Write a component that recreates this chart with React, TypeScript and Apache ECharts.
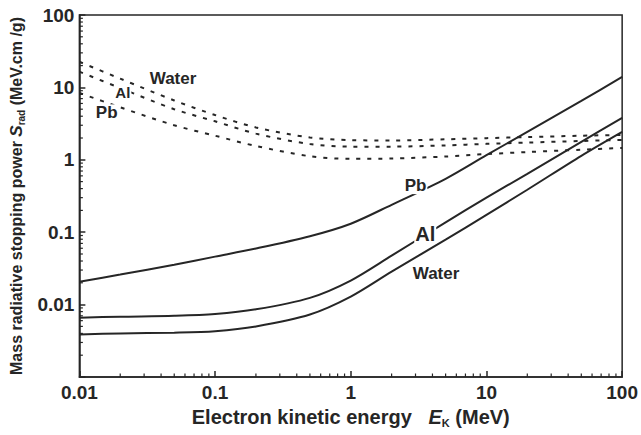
import React, { useEffect, useRef } from "react";
import * as echarts from "echarts";

// Electron kinetic energy (MeV)
const energies = [0.01, 0.02, 0.05, 0.1, 0.2, 0.5, 1, 2, 5, 10, 20, 50, 100];

// Mass radiative stopping power (solid curves)
const waterRad = [0.00386, 0.004, 0.0041, 0.0043, 0.005, 0.0073, 0.0129, 0.0285, 0.0788, 0.174, 0.386, 1.135, 2.43];
const alRad = [0.0066, 0.0068, 0.007, 0.0074, 0.0086, 0.0124, 0.0215, 0.0474, 0.137, 0.3, 0.64, 1.77, 3.8];
const pbRad = [0.0207, 0.026, 0.0356, 0.046, 0.0595, 0.088, 0.131, 0.239, 0.547, 1.16, 2.43, 6.5, 14];

// Collision stopping power (dotted curves)
const waterCol = [22.6, 13.2, 6.6, 4.15, 2.8, 2.03, 1.87, 1.85, 1.92, 1.99, 2.06, 2.15, 2.21];
const alCol = [16.5, 9.8, 5.0, 3.4, 2.3, 1.65, 1.52, 1.52, 1.58, 1.66, 1.73, 1.82, 1.88];
const pbCol = [8.4, 5.3, 3.0, 2.15, 1.55, 1.12, 1.03, 1.04, 1.11, 1.2, 1.28, 1.38, 1.46];

// Axis ranges and ticks
const xMin = 0.01;
const xMax = 100;
const yMin = 0.001;
const yMax = 100;
const xDecades = [0.01, 0.1, 1, 10];
const yDecades = [0.001, 0.01, 0.1, 1, 10];
const minorSteps = [2, 3, 4, 5, 6, 7, 8, 9];

// Curve annotations (data coordinates)
const annotations = [
  { text: "Water", x: 0.049, y: 13.1, size: 17 },
  { text: "Al", x: 0.0209, y: 8.6, size: 15 },
  { text: "Pb", x: 0.0159, y: 4.45, size: 17 },
  { text: "Pb", x: 3.0, y: 0.44, size: 17 },
  { text: "Al", x: 3.54, y: 0.0953, size: 20 },
  { text: "Water", x: 4.25, y: 0.0268, size: 17 },
];

const FONT = '"Liberation Sans", Arial, Helvetica, sans-serif';
const INK = "#262626";

const pairs = (ys: number[]) => energies.map((e, i) => [e, ys[i]]);

const fmt = (v: number) => {
  const s = Number(v.toPrecision(2));
  return s < 0.005 ? "" : String(s);
};

export default function App() {
  const ref = useRef<HTMLDivElement>(null);

  useEffect(() => {
    document.body.style.margin = "0";
    const chart = echarts.init(ref.current!, null, { renderer: "svg" });

    const xMinor: number[][] = [];
    xDecades.forEach((d) => minorSteps.forEach((m) => xMinor.push([d * m, yMin])));
    const yMinor: number[][] = [];
    yDecades.forEach((d) => minorSteps.forEach((m) => yMinor.push([xMin, d * m])));

    const solid = { color: INK, width: 2 };
    const dotted = { color: INK, width: 2, type: [4, 7] as number[] };

    const lineSeries = (name: string, ys: number[], style: any) => ({
      name,
      type: "line",
      data: pairs(ys),
      showSymbol: false,
      symbol: "none",
      smooth: 0.3,
      lineStyle: style,
      silent: true,
      z: 2,
    });

    const tickSeries = (data: number[][], horizontal: boolean) => ({
      type: "custom",
      silent: true,
      clip: false,
      z: 4,
      data,
      renderItem: (_p: any, api: any) => {
        const pt = api.coord([api.value(0), api.value(1)]);
        return {
          type: "line",
          shape: horizontal
            ? { x1: pt[0], y1: pt[1], x2: pt[0] + 3.5, y2: pt[1] }
            : { x1: pt[0], y1: pt[1], x2: pt[0], y2: pt[1] - 3.5 },
          style: { stroke: INK, lineWidth: 1.2 },
        };
      },
    });

    const option: any = {
      animation: false,
      backgroundColor: "#ffffff",
      grid: {
        left: 69,
        right: 18,
        top: 15,
        bottom: 58,
        show: true,
        borderColor: INK,
        borderWidth: 1.5,
        backgroundColor: "transparent",
      },
      xAxis: {
        type: "log",
        logBase: 10,
        min: xMin,
        max: xMax,
        axisLine: { show: true, lineStyle: { color: INK, width: 1.5 } },
        axisTick: { show: true, inside: true, length: 6, lineStyle: { color: INK, width: 1.5 } },
        splitLine: { show: false },
        axisLabel: {
          margin: 6,
          fontSize: 19,
          fontWeight: "bold",
          fontFamily: FONT,
          color: INK,
          formatter: fmt,
        },
        name: "{a|Electron kinetic energy   }{i|E}{s|K}{a| (MeV)}",
        nameLocation: "middle",
        nameGap: 25,
        nameTextStyle: {
          fontFamily: FONT,
          fontWeight: "bold",
          fontSize: 20,
          color: INK,
          rich: {
            a: { fontFamily: FONT, fontWeight: "bold", fontSize: 20, color: INK, lineHeight: 24 },
            i: { fontFamily: FONT, fontWeight: "bold", fontStyle: "italic", fontSize: 20, color: INK, lineHeight: 24 },
            s: { fontFamily: FONT, fontWeight: "bold", fontSize: 11, color: INK, lineHeight: 12, verticalAlign: "bottom" },
          },
        },
      },
      yAxis: {
        type: "log",
        logBase: 10,
        min: yMin,
        max: yMax,
        axisLine: { show: true, lineStyle: { color: INK, width: 1.5 } },
        axisTick: { show: true, inside: true, length: 6, lineStyle: { color: INK, width: 1.5 } },
        splitLine: { show: false },
        axisLabel: {
          margin: 5,
          fontSize: 19,
          fontWeight: "bold",
          fontFamily: FONT,
          color: INK,
          formatter: fmt,
        },
        name: "{a|Mass radiative stopping power }{i|S}{s|rad}{a| (MeV.cm /g)}",
        nameLocation: "middle",
        nameGap: 46,
        nameTextStyle: {
          fontFamily: FONT,
          fontWeight: "bold",
          fontSize: 16,
          color: INK,
          rich: {
            a: { fontFamily: FONT, fontWeight: "bold", fontSize: 16, color: INK, lineHeight: 20 },
            i: { fontFamily: FONT, fontWeight: "bold", fontStyle: "italic", fontSize: 17, color: INK, lineHeight: 20 },
            s: { fontFamily: FONT, fontWeight: "bold", fontSize: 10, color: INK, lineHeight: 10, verticalAlign: "bottom" },
          },
        },
      },
      series: [
        lineSeries("Pb radiative", pbRad, solid),
        lineSeries("Al radiative", alRad, solid),
        lineSeries("Water radiative", waterRad, solid),
        lineSeries("Water collision", waterCol, dotted),
        lineSeries("Al collision", alCol, dotted),
        lineSeries("Pb collision", pbCol, dotted),
        tickSeries(xMinor, false),
        tickSeries(yMinor, true),
      ],
    };

    chart.setOption(option);

    const graphic = annotations.map((a) => {
      const p = chart.convertToPixel({ gridIndex: 0 } as any, [a.x, a.y]) as number[];
      return {
        type: "text",
        x: p[0],
        y: p[1],
        z: 100,
        silent: true,
        style: {
          text: a.text,
          fontFamily: FONT,
          fontWeight: "bold",
          fontSize: a.size,
          fill: INK,
          align: "center",
          verticalAlign: "middle",
          backgroundColor: "#ffffff",
          padding: [0, 1],
        },
      };
    });
    chart.setOption({ graphic });

    return () => chart.dispose();
  }, []);

  return <div ref={ref} style={{ width: 641, height: 435 }} />;
}
